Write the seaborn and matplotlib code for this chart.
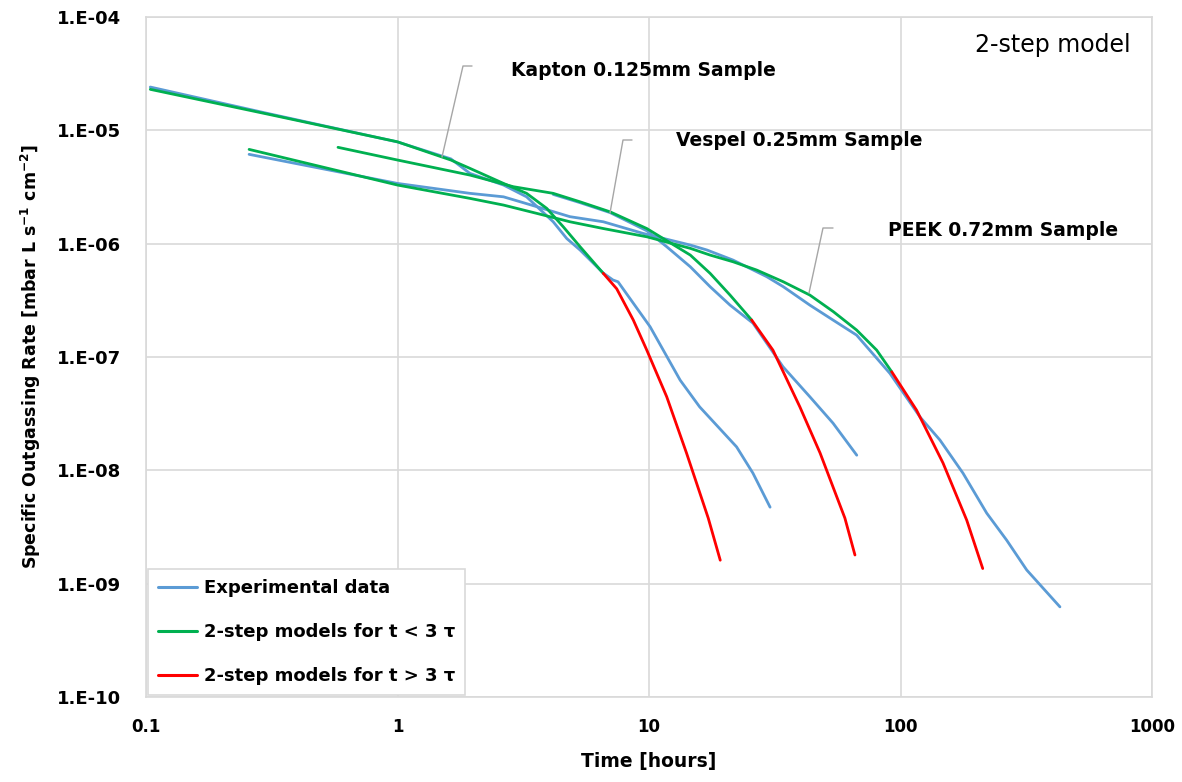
import matplotlib
matplotlib.use("Agg")
import matplotlib.pyplot as plt
import seaborn as sns
import pandas as pd
from matplotlib.lines import Line2D
from matplotlib.ticker import FixedLocator, FixedFormatter, NullLocator

# ---------------- data ----------------
kapton_exp_t = [0.104, 0.3, 1.0, 1.63, 1.94, 2.64, 3.26, 4.16, 4.71, 5.32, 6.58, 7.19, 7.53, 10.1, 13.3,
                15.9, 22.3, 25.9, 30.3]
kapton_exp_q = [2.41e-5, 1.42e-5, 7.9e-6, 5.6e-6, 4.17e-6, 3.29e-6, 2.59e-6, 1.56e-6, 1.11e-6, 8.79e-7,
                5.5e-7, 4.78e-7, 4.61e-7, 1.85e-7, 6.25e-8, 3.63e-8, 1.61e-8, 9.44e-9, 4.73e-9]
kapton_fit1_t = [0.104, 0.3, 1.0, 1.63, 1.94, 2.64, 3.26, 3.92, 4.56, 5.32, 6.58]
kapton_fit1_q = [2.30e-5, 1.40e-5, 7.92e-6, 5.47e-6, 4.62e-6, 3.40e-6, 2.78e-6, 2.05e-6, 1.41e-6, 9.4e-7,
                 5.47e-7]
kapton_fit2_t = [6.58, 7.44, 8.66, 9.80, 11.76, 14.1, 17.2, 19.2]
kapton_fit2_q = [5.47e-7, 4.0e-7, 2.12e-7, 1.15e-7, 4.46e-8, 1.42e-8, 3.79e-9, 1.61e-9]

vespel_exp_t = [4.16, 5.32, 7.0, 9.8, 11.76, 14.6, 17.5, 21.0, 25.9, 34.1, 43.6, 53.9, 67.0]
vespel_exp_q = [2.72e-6, 2.30e-6, 1.88e-6, 1.30e-6, 9.4e-7, 6.25e-7, 4.17e-7, 2.87e-7, 1.99e-7, 8.2e-8,
                4.46e-8, 2.61e-8, 1.36e-8]
vespel_fit1_t = [0.58, 1.0, 1.94, 2.89, 4.16, 5.32, 7.0, 9.8, 14.6, 17.5, 21.0, 25.6]
vespel_fit1_q = [7.08e-6, 5.47e-6, 4.03e-6, 3.18e-6, 2.78e-6, 2.34e-6, 1.91e-6, 1.36e-6, 7.93e-7,
                 5.47e-7, 3.52e-7, 2.12e-7]
vespel_fit2_t = [25.6, 31.1, 39.8, 47.9, 53.9, 60.1, 65.9]
vespel_fit2_q = [2.12e-7, 1.15e-7, 3.63e-8, 1.42e-8, 7.14e-9, 3.79e-9, 1.79e-9]

peek_exp_t = [0.257, 1.0, 1.94, 2.64, 3.58, 4.85, 6.58, 9.49, 14.6, 17.0, 21.6, 29.4, 34.2, 43.6, 53.9,
              66.9, 90.8, 119.5, 143.5, 177.2, 220.2, 264.3, 317.6, 430.5]
peek_exp_q = [6.14e-6, 3.40e-6, 2.78e-6, 2.59e-6, 2.12e-6, 1.73e-6, 1.56e-6, 1.23e-6, 9.72e-7, 8.79e-7,
              7.16e-7, 5.11e-7, 4.17e-7, 2.87e-7, 2.12e-7, 1.56e-7, 7.16e-8, 2.96e-8, 1.85e-8, 9.44e-9,
              4.19e-9, 2.42e-9, 1.32e-9, 6.24e-10]
peek_fit1_t = [0.257, 1.0, 1.94, 2.64, 3.58, 4.85, 6.58, 9.8, 14.6, 17.5, 21.6, 26.8, 34.2, 43.6, 54.1,
               66.9, 80.4, 92.3]
peek_fit1_q = [6.79e-6, 3.29e-6, 2.51e-6, 2.19e-6, 1.85e-6, 1.56e-6, 1.36e-6, 1.15e-6, 9.09e-7, 7.93e-7,
               6.92e-7, 5.85e-7, 4.61e-7, 3.52e-7, 2.51e-7, 1.73e-7, 1.15e-7, 7.4e-8]
peek_fit2_t = [92.3, 115.8, 147.6, 183.4, 212.3]
peek_fit2_q = [7.4e-8, 3.40e-8, 1.16e-8, 3.63e-9, 1.36e-9]

x_ticks = [0.1, 1, 10, 100, 1000]
x_tick_labels = ["0.1", "1", "10", "100", "1000"]
y_ticks = [1e-10, 1e-9, 1e-8, 1e-7, 1e-6, 1e-5, 1e-4]
y_tick_labels = ["1.E-10", "1.E-09", "1.E-08", "1.E-07", "1.E-06", "1.E-05", "1.E-04"]

legend_labels = ["Experimental data", "2-step models for t < 3 \u03c4", "2-step models for t > 3 \u03c4"]
sample_labels = ["Kapton 0.125mm Sample", "Vespel 0.25mm Sample", "PEEK 0.72mm Sample"]
title_text = "2-step model"

# ---------------- style ----------------
sns.set_theme(style="white")
plt.rcParams['font.family'] = ['DejaVu Sans']
plt.rcParams['mathtext.fontset'] = 'dejavusans'
plt.rcParams['mathtext.default'] = 'regular'
plt.rcParams['text.color'] = 'black'
plt.rcParams['axes.labelcolor'] = 'black'
plt.rcParams['xtick.color'] = 'black'
plt.rcParams['ytick.color'] = 'black'

BLUE = "#5B9BD5"
GREEN = "#00B050"
RED = "#FF0000"
GRID = "#D9D9D9"

fig = plt.figure(figsize=(11.82, 7.82), dpi=100)
ax = fig.add_axes([146 / 1182, 1 - 697 / 782, (1152 - 146) / 1182, (697 - 17) / 782])

def draw(t, q, color, lw, z):
    df = pd.DataFrame({"t": t, "q": q})
    sns.lineplot(data=df, x="t", y="q", ax=ax, color=color, linewidth=lw,
                 sort=False, estimator=None, zorder=z)

for t, q in [(kapton_exp_t, kapton_exp_q), (vespel_exp_t, vespel_exp_q), (peek_exp_t, peek_exp_q)]:
    draw(t, q, BLUE, 2.0, 3)
for t, q in [(kapton_fit1_t, kapton_fit1_q), (vespel_fit1_t, vespel_fit1_q), (peek_fit1_t, peek_fit1_q)]:
    draw(t, q, GREEN, 2.0, 4)
for t, q in [(kapton_fit2_t, kapton_fit2_q), (vespel_fit2_t, vespel_fit2_q), (peek_fit2_t, peek_fit2_q)]:
    draw(t, q, RED, 2.0, 4)

ax.set_xscale("log")
ax.set_yscale("log")
ax.set_xlim(0.1, 1000)
ax.set_ylim(1e-10, 1e-4)
ax.xaxis.set_major_locator(FixedLocator(x_ticks))
ax.xaxis.set_major_formatter(FixedFormatter(x_tick_labels))
ax.xaxis.set_minor_locator(NullLocator())
ax.yaxis.set_major_locator(FixedLocator(y_ticks))
ax.yaxis.set_major_formatter(FixedFormatter(y_tick_labels))
ax.yaxis.set_minor_locator(NullLocator())
ax.grid(True, which="major", color=GRID, linewidth=1.2, zorder=0)
ax.set_axisbelow(True)
for s in ax.spines.values():
    s.set_color(GRID)
    s.set_linewidth(1.2)
ax.tick_params(axis="both", length=0, labelcolor="black")
ax.tick_params(axis="x", pad=15, labelsize=12)
ax.tick_params(axis="y", pad=18, labelsize=13)
for lab in ax.get_xticklabels() + ax.get_yticklabels():
    lab.set_fontweight("bold")

ax.set_xlabel("Time [hours]", fontsize=13.5, fontweight="bold", labelpad=12, color="black")
ax.set_ylabel("Specific Outgassing Rate [mbar L s$^{-1}$ cm$^{-2}$]", fontsize=12.5,
              fontweight="bold", labelpad=10, color="black")

# annotations with leader lines (axes-fraction coordinates)
def px(x, y):
    return ((x - 146) / (1152 - 146), (697 - y) / (697 - 17))

leaders = [
    [(472, 66), (463, 66), (442, 157)],
    [(632, 140), (623, 140), (610, 213)],
    [(833, 228), (823, 228), (809, 293)],
]
for pts in leaders:
    xs, ys = zip(*[px(*p) for p in pts])
    ax.plot(xs, ys, transform=ax.transAxes, color="#A6A6A6", linewidth=1.0, zorder=5)

label_pos = [(511, 70), (676, 141), (888, 230)]
for (x, y), s in zip(label_pos, sample_labels):
    fx, fy = px(x, y)
    ax.text(fx, fy, s, transform=ax.transAxes, fontsize=13.5, fontweight="bold", color="black",
            ha="left", va="center", zorder=6)

fx, fy = px(1131, 45)
ax.text(fx, fy, title_text, transform=ax.transAxes, fontsize=17, color="black",
        ha="right", va="center", zorder=6)

handles = [Line2D([0], [0], color=c, linewidth=2.2) for c in (BLUE, GREEN, RED)]
leg = ax.legend(handles, legend_labels, loc="lower left", bbox_to_anchor=(0.0, 0.0),
                prop={"weight": "bold", "size": 13}, frameon=True, fancybox=False,
                edgecolor=GRID, framealpha=1.0, borderpad=0.55, labelspacing=1.45,
                handlelength=2.2, handletextpad=0.35, borderaxespad=0.1, labelcolor="black")
leg.get_frame().set_linewidth(1.2)
leg.set_zorder(10)

fig.savefig("out.png", dpi=100)
